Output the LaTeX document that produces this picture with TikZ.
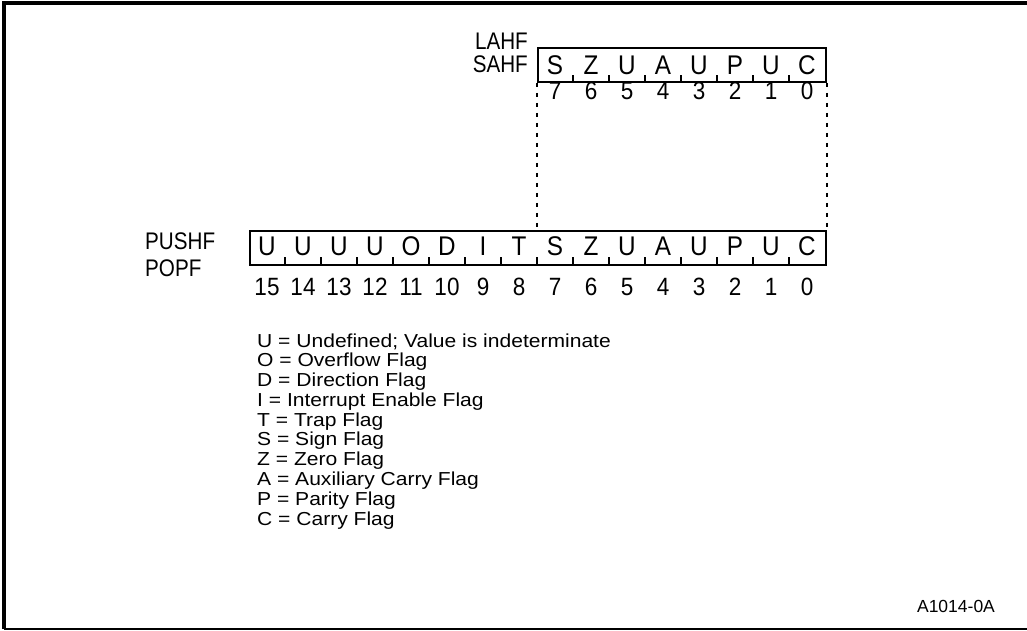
\documentclass[tikz,border=0pt]{standalone}
\usepackage{fontspec}
\setmainfont{Liberation Sans}
\usepackage{graphicx}
\newcommand{\narrow}[1]{\scalebox{0.9}[1]{#1}}
\newcommand{\opnarrow}[1]{\scalebox{0.86}[1]{#1}}
\newcommand{\legwide}[1]{\scalebox{1.12}[1]{#1}}
\begin{document}
\begin{tikzpicture}[x=1pt,y=-1pt,
  reg/.style={draw,line width=1.8pt,inner sep=0pt,minimum height=34pt,anchor=north west},
  bitlbl/.style={font=\fontsize{27}{27}\selectfont,inner sep=0pt},
  bitnum/.style={font=\fontsize{25}{25}\selectfont,inner sep=0pt},
  oplbl/.style={font=\fontsize{24}{24}\selectfont,inner sep=0pt},
  tick/.style={line width=1.6pt},
  dots/.style={line width=2pt,dash pattern=on 4pt off 6pt},
  legend/.style={font=\fontsize{18.8}{19}\selectfont,inner sep=0pt,anchor=west}]
\useasboundingbox (0,0) rectangle (1027,631);
% frame
\draw[line width=4pt] (4,629) -- (4,3) -- (1027,3);
\draw[line width=2pt] (4,629) -- (1027,629);
% top register
\node[reg,minimum width=288pt] (topbox) at (537,47) {};
\foreach \l [count=\i from 0] in {S,Z,U,A,U,P,U,C} {
  \node[bitlbl] (t\i) at (555+36*\i,65) {\narrow{\l}};
}
\foreach \i in {1,...,7} {
  \draw[tick] (537+36*\i,82) -- (537+36*\i,75);
}
\foreach \n [count=\i from 0] in {7,6,5,4,3,2,1,0} {
  \node[bitnum] (tn\i) at (555+36*\i,91) {\narrow{\n}};
}
\node[oplbl,anchor=east] (lahf) at (528,41) {\opnarrow{LAHF}};
\node[oplbl,anchor=east] (sahf) at (528,64) {\opnarrow{SAHF}};
% bottom register
\node[reg,minimum width=576pt] (botbox) at (249,230) {};
\foreach \l [count=\i from 0] in {U,U,U,U,O,D,I,T,S,Z,U,A,U,P,U,C} {
  \node[bitlbl] (b\i) at (267+36*\i,246) {\narrow{\l}};
}
\foreach \i in {1,...,15} {
  \draw[tick] (249+36*\i,264) -- (249+36*\i,257);
}
\foreach \n [count=\i from 0] in {15,14,13,12,11,10,9,8,7,6,5,4,3,2,1,0} {
  \node[bitnum] (bn\i) at (267+36*\i,287) {\narrow{\n}};
}
\node[oplbl,anchor=west] (pushf) at (145,241) {\opnarrow{PUSHF}};
\node[oplbl,anchor=west] (popf) at (145,268) {\opnarrow{POPF}};
% dotted connectors
\draw[dots] (topbox.south west) -- (topbox.south west |- botbox.north);
\draw[dots] (topbox.south east) -- (topbox.south east |- botbox.north);
% legend
\foreach \t [count=\i from 0] in {%
  U = Undefined; Value is indeterminate,
  O = Overflow Flag,
  D = Direction Flag,
  I = Interrupt Enable Flag,
  T = Trap Flag,
  S = Sign Flag,
  Z = Zero Flag,
  A = Auxiliary Carry Flag,
  P = Parity Flag,
  C = Carry Flag} {
  \node[legend] (leg\i) at (257,342+19.8*\i) {\legwide{\t}};
}
\node[font=\fontsize{17.5}{18}\selectfont,inner sep=0pt] (code) at (956,606) {A1014-0A};
\end{tikzpicture}
\end{document}
